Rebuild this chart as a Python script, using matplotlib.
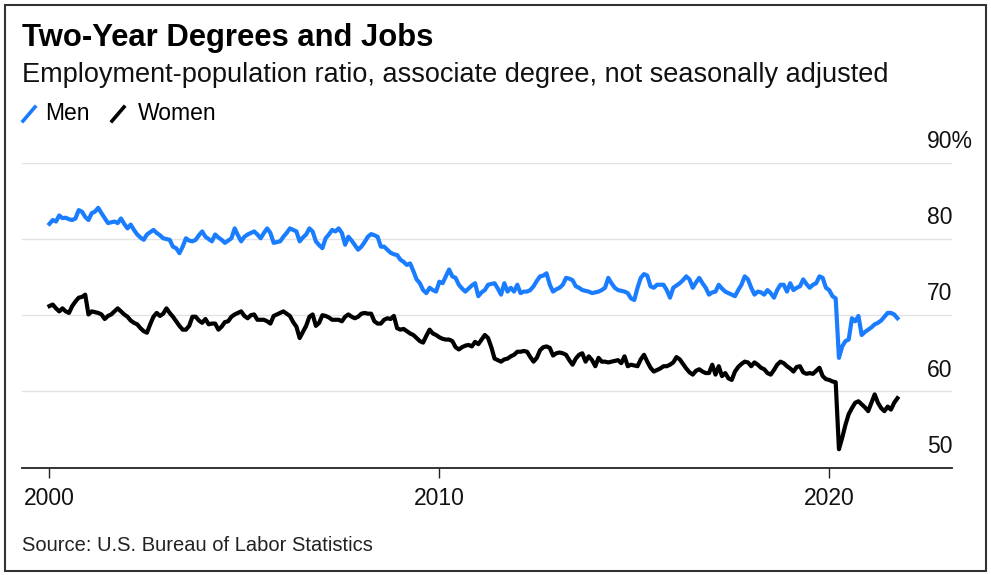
import numpy as np
import matplotlib
matplotlib.use("Agg")
from matplotlib import pyplot as plt
from matplotlib.lines import Line2D
from matplotlib.patches import Rectangle

plt.rcParams["font.family"] = ["Liberation Sans", "DejaVu Sans"]

# 月次データ (2000年1月 - 2021年10月), 画像から読み取り
start_year = 2000

men = [
    82.0, 82.5, 82.3, 83.1, 82.75, 82.8, 82.6, 82.5, 82.7, 83.8, 83.6, 82.9,   # 2000
    82.5, 83.4, 83.6, 84.1, 83.4, 82.75, 82.1, 82.2, 82.3, 82.1, 82.7, 82.0,   # 2001
    81.4, 81.9, 81.2, 80.6, 80.2, 79.9, 80.6, 80.9, 81.2, 80.8, 80.5, 80.1,    # 2002
    80.0, 79.9, 79.0, 78.8, 78.15, 79.0, 80.1, 79.8, 79.7, 79.9, 80.5, 81.0,   # 2003
    80.3, 80.0, 79.7, 80.6, 80.2, 79.9, 79.5, 79.8, 80.1, 81.4, 80.5, 79.7,    # 2004
    80.3, 80.6, 80.8, 81.0, 80.6, 80.1, 80.8, 81.4, 80.8, 79.5, 79.6, 79.7,    # 2005
    80.3, 80.8, 81.4, 81.2, 81.0, 79.7, 80.2, 80.6, 81.4, 81.0, 79.7, 79.2,    # 2006
    78.8, 80.1, 80.6, 81.2, 81.0, 81.4, 80.8, 79.25, 80.3, 79.8, 79.2, 78.6,   # 2007
    79.0, 79.6, 80.3, 80.65, 80.5, 80.3, 79.0, 79.0, 78.6, 78.2, 78.0, 77.9,   # 2008
    77.3, 77.0, 76.6, 76.8, 75.8, 74.7, 74.2, 73.3, 72.9, 73.6, 73.3, 73.1,    # 2009
    74.4, 74.2, 75.1, 76.0, 75.1, 74.9, 74.0, 73.5, 73.1, 73.5, 73.9, 74.2,    # 2010
    72.5, 73.0, 73.3, 74.0, 74.1, 74.2, 73.5, 72.7, 74.2, 73.1, 73.6, 73.1,    # 2011
    74.0, 72.9, 73.1, 73.1, 73.3, 73.8, 74.5, 75.1, 75.2, 75.5, 74.0, 73.1,    # 2012
    73.4, 73.6, 74.0, 74.9, 74.8, 74.6, 73.8, 73.6, 73.3, 73.2, 73.1, 72.9,    # 2013
    73.0, 73.1, 73.3, 73.6, 74.9, 74.2, 73.6, 73.3, 73.2, 73.1, 72.9, 72.2,    # 2014
    72.0, 73.6, 74.9, 75.4, 75.2, 73.8, 73.6, 74.0, 74.0, 74.0, 73.3, 72.3,    # 2015
    73.6, 73.9, 74.2, 74.6, 75.1, 74.7, 73.6, 74.3, 74.9, 74.2, 73.6, 72.7,    # 2016
    73.0, 73.1, 74.0, 73.5, 73.1, 72.9, 72.7, 72.5, 73.3, 74.0, 75.1, 74.7,    # 2017
    73.6, 72.7, 73.1, 73.0, 72.7, 73.3, 72.9, 72.3, 73.3, 74.0, 74.0, 73.1,    # 2018
    74.2, 73.3, 73.6, 73.8, 74.7, 74.1, 73.6, 74.0, 74.2, 75.1, 74.9, 73.6,    # 2019
    73.3, 72.5, 72.2, 64.4, 65.9, 66.6, 66.8, 69.6, 69.2, 69.9, 67.4, 67.8,    # 2020
    68.1, 68.4, 68.8, 69.0, 69.3, 69.8, 70.3, 70.3, 70.1, 69.6,                # 2021
]

women = [
    71.2, 71.4, 70.9, 70.5, 70.9, 70.5, 70.3, 71.2, 71.8, 72.3, 72.4, 72.7,    # 2000
    70.1, 70.5, 70.4, 70.3, 70.1, 69.5, 69.9, 70.1, 70.5, 70.9, 70.5, 70.1,    # 2001
    69.8, 69.3, 69.0, 68.8, 68.3, 67.9, 67.7, 68.8, 69.8, 70.3, 69.9, 70.2,    # 2002
    70.9, 70.3, 69.8, 69.2, 68.6, 68.1, 68.1, 68.6, 69.8, 69.8, 69.3, 69.0,    # 2003
    69.5, 68.8, 68.9, 68.9, 68.1, 68.5, 69.1, 69.2, 69.8, 70.1, 70.3, 70.5,    # 2004
    69.9, 69.6, 70.0, 70.1, 69.4, 69.4, 69.4, 69.2, 68.9, 69.9, 70.1, 70.3,    # 2005
    70.5, 70.2, 69.9, 69.1, 68.5, 67.0, 67.8, 68.6, 69.8, 70.1, 68.6, 69.0,    # 2006
    70.0, 69.9, 69.7, 69.4, 69.4, 69.4, 69.2, 69.8, 70.1, 69.8, 69.6, 69.8,    # 2007
    70.2, 70.3, 70.2, 70.2, 69.2, 68.9, 68.9, 69.4, 69.6, 69.5, 69.9, 68.3,    # 2008
    68.1, 68.2, 67.9, 67.6, 67.4, 67.0, 66.6, 66.4, 67.3, 68.1, 67.6, 67.4,    # 2009
    67.1, 66.9, 66.8, 66.8, 66.6, 65.8, 65.5, 65.8, 66.0, 66.1, 65.9, 66.5,    # 2010
    66.2, 66.8, 67.4, 67.0, 65.8, 64.3, 64.1, 63.9, 64.2, 64.3, 64.6, 64.8,    # 2011
    65.2, 65.2, 65.3, 65.2, 64.5, 63.9, 64.4, 65.4, 65.8, 65.9, 65.7, 64.7,    # 2012
    65.0, 65.1, 65.0, 64.8, 64.1, 63.5, 64.3, 64.8, 65.0, 63.9, 64.6, 64.1,    # 2013
    63.3, 64.4, 63.9, 63.9, 63.8, 63.9, 64.0, 64.1, 63.7, 64.6, 63.3, 63.5,    # 2014
    63.4, 63.3, 64.2, 64.8, 63.9, 63.1, 62.6, 62.8, 63.0, 63.3, 63.3, 63.5,    # 2015
    63.8, 64.5, 64.2, 63.6, 63.0, 62.5, 62.2, 62.7, 62.9, 62.6, 62.4, 62.4,    # 2016
    63.5, 62.2, 63.3, 62.0, 62.4, 61.7, 61.5, 62.6, 63.2, 63.6, 63.9, 63.8,    # 2017
    63.3, 63.8, 63.5, 63.1, 62.9, 62.4, 62.2, 62.8, 63.5, 63.9, 63.7, 63.3,    # 2018
    63.0, 62.6, 63.2, 63.3, 62.5, 62.3, 62.4, 62.3, 62.7, 63.1, 62.0, 61.6,    # 2019
    61.5, 61.3, 61.2, 52.4, 53.9, 55.6, 57.0, 57.8, 58.5, 58.7, 58.3, 57.9,    # 2020
    57.4, 58.5, 59.6, 58.5, 57.8, 57.4, 58.0, 57.6, 58.5, 59.1,                # 2021
]

y_ticks = [50, 60, 70, 80, 90]
y_labels = ["50", "60", "70", "80", "90%"]
x_ticks = [2000, 2010, 2020]

BLUE = "#1a7dff"
t = start_year + np.arange(len(men)) / 12

fig = plt.figure(figsize=(9.91, 5.75), dpi=100)
W, H = 991, 575

def fx(px):
    return px / W

def fy(py):
    return 1 - py / H

ax = fig.add_axes([fx(22), fy(467.5), fx(952) - fx(22), fy(162.9) - fy(467.5)])

# グリッド
for v in y_ticks[1:]:
    ax.axhline(v, color="#e3e3e3", linewidth=1, zorder=0)

ax.plot(t, men, color=BLUE, linewidth=3.0, solid_joinstyle="round", zorder=3)
ax.plot(t, women, color="black", linewidth=3.0, solid_joinstyle="round", zorder=3)

ax.set_xlim(1999.295, 2023.15)
ax.set_ylim(50, 90)

for s in ["top", "right", "left"]:
    ax.spines[s].set_visible(False)
ax.spines["bottom"].set_color("#222222")
ax.spines["bottom"].set_linewidth(1.3)
ax.set_yticks([])
ax.set_xticks(x_ticks)
ax.set_xticklabels([str(x) for x in x_ticks], fontsize=16.5, color="#111111")
ax.tick_params(axis="x", length=7, width=1, color="#222222", pad=7)

# 右側のラベル (グリッド線の上)
for v, lab in zip(y_ticks, y_labels):
    ax.annotate(lab, xy=(1, v), xycoords=("axes fraction", "data"),
                xytext=(-18, 15.3), textcoords="offset points",
                ha="left", va="center", fontsize=16.5, color="#111111")

# タイトル
fig.text(fx(22), fy(46), "Two-Year Degrees and Jobs", fontsize=22.3,
         fontweight="bold", ha="left", va="baseline", color="black")
fig.text(fx(22), fy(82), "Employment-population ratio, associate degree, not seasonally adjusted",
         fontsize=19.5, ha="left", va="baseline", color="#111111")

# 凡例
fig.add_artist(Line2D([fx(23), fx(35)], [fy(121), fy(107)], color=BLUE, linewidth=2.6))
fig.text(fx(45), fy(120), "Men", fontsize=16.5, ha="left", va="baseline")
fig.add_artist(Line2D([fx(112), fx(124)], [fy(121), fy(107)], color="black", linewidth=2.6))
fig.text(fx(138), fy(120), "Women", fontsize=16.5, ha="left", va="baseline")

fig.text(fx(22), fy(551), "Source: U.S. Bureau of Labor Statistics", fontsize=14.5,
         ha="left", va="baseline", color="#222222")

# 外枠
fig.add_artist(Rectangle((fx(5), fy(571)), fx(981), fy(5) - fy(571), transform=fig.transFigure,
                         fill=False, edgecolor="#333333", linewidth=1.5))

fig.savefig("out.png", dpi=100)
